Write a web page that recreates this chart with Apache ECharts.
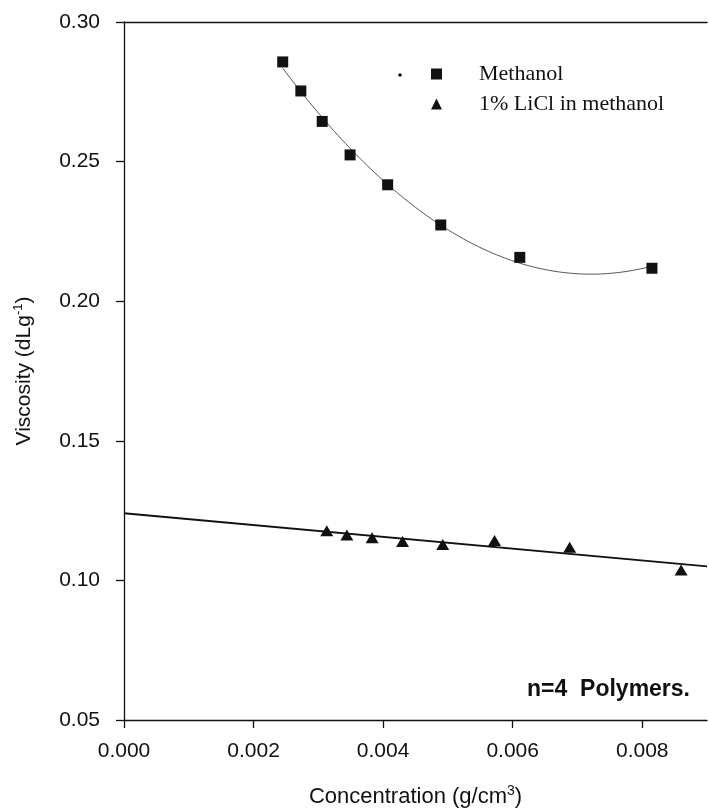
<!DOCTYPE html>
<html><head><meta charset="utf-8">
<script src="https://cdn.jsdelivr.net/npm/echarts@6/dist/echarts.min.js"></script>
<style>html,body{margin:0;padding:0;background:#fff}#c{width:709px;height:809px}</style>
</head><body><div id="c"></div>
<script>
// ---- data ----
const xTicks = [0, 0.002, 0.004, 0.006, 0.008];
const yTicks = [0.05, 0.10, 0.15, 0.20, 0.25, 0.30];
const xRange = [0, 0.009];
const yRange = [0.05, 0.30];
const seriesNames = ['Methanol', '1% LiCl in methanol'];
const methanolX = [0.00245, 0.00273, 0.00306, 0.00349, 0.00407, 0.00489, 0.00611, 0.00815];
const methanolY = [0.2857, 0.2753, 0.2644, 0.2524, 0.2417, 0.2273, 0.2157, 0.2118];
const liclX = [0.00313, 0.00344, 0.00383, 0.00430, 0.00492, 0.00572, 0.00688, 0.00860];
const liclY = [0.1178, 0.1163, 0.1153, 0.1139, 0.1129, 0.1143, 0.1119, 0.1037];
const noteText = 'n=4  Polymers.';

// ---- regression fits of the data ----
function linFit(xs, ys) {
  const n = xs.length, mx = xs.reduce((a,b)=>a+b,0)/n, my = ys.reduce((a,b)=>a+b,0)/n;
  let sxy=0, sxx=0;
  for (let i=0;i<n;i++){ sxy+=(xs[i]-mx)*(ys[i]-my); sxx+=(xs[i]-mx)**2; }
  const b = sxy/sxx; return {a: my-b*mx, b};
}
function quadFit(xs, ys) {
  const s = 1000; const X = xs.map(v=>v*s);
  const S = k => X.reduce((a,v)=>a+v**k,0);
  const T = k => X.reduce((a,v,i)=>a+v**k*ys[i],0);
  const M = [[S(0),S(1),S(2),T(0)],[S(1),S(2),S(3),T(1)],[S(2),S(3),S(4),T(2)]];
  for (let i=0;i<3;i++){ for (let j=i+1;j<3;j++){ const f=M[j][i]/M[i][i]; for(let k=i;k<4;k++) M[j][k]-=f*M[i][k]; } }
  const c=[0,0,0];
  for (let i=2;i>=0;i--){ let v=M[i][3]; for(let k=i+1;k<3;k++) v-=M[i][k]*c[k]; c[i]=v/M[i][i]; }
  return x => c[0]+c[1]*(x*s)+c[2]*(x*s)**2;
}
const lf = linFit(liclX, liclY);
const liclLine = [[xRange[0], lf.a + lf.b*xRange[0]], [xRange[1], lf.a + lf.b*xRange[1]]];
const qf = quadFit(methanolX, methanolY);
const mLo = Math.min(...methanolX), mHi = Math.max(...methanolX);
const methanolCurve = [];
for (let i=0;i<=100;i++){ const x = mLo + (mHi-mLo)*i/100; methanolCurve.push([x, qf(x)]); }

const sans = 'Liberation Sans, Arial, sans-serif';
const serif = 'Liberation Serif, Times New Roman, serif';
const chart = echarts.init(document.getElementById('c'), null, {renderer:'canvas'});
chart.setOption({
  animation: false,
  backgroundColor: '#fff',
  grid: {left: 124, top: 22, right: 2, bottom: 89, containLabel: false, outerBoundsMode: 'none'},
  legend: {
    data: [{name: seriesNames[0], icon: 'rect'}, {name: seriesNames[1], icon: 'triangle'}],
    orient: 'vertical', left: 431, top: 63, padding: 0, itemWidth: 11, itemHeight: 11, itemGap: 8,
    textStyle: {fontFamily: serif, fontSize: 22, color: '#111', padding: [0,0,0,32]},
    selectedMode: false
  },
  xAxis: [{
    type: 'value', min: xRange[0], max: xRange[1], position: 'bottom',
    name: 'Concentration (g/cm{sup|3})', nameLocation: 'middle', nameGap: 64,
    nameTextStyle: {fontFamily: sans, fontSize: 22, color: '#111',
      rich: {sup: {fontFamily: sans, fontSize: 14, verticalAlign: 'top', padding: [0,0,11,0], color:'#111'}}},
    axisLine: {show: true, lineStyle: {color: '#111', width: 1.3}},
    axisTick: {show: true, length: 8, customValues: xTicks, lineStyle: {color: '#111', width: 1.3}},
    axisLabel: {customValues: xTicks, margin: 21, fontFamily: sans, fontSize: 21, color: '#111',
      formatter: v => v.toFixed(3)},
    splitLine: {show: false}
  }, {
    type: 'value', min: xRange[0], max: xRange[1], position: 'top',
    axisLine: {show: true, lineStyle: {color: '#111', width: 1.3}},
    axisTick: {show: false}, axisLabel: {show: false}, splitLine: {show: false}
  }],
  yAxis: {
    type: 'value', min: yRange[0], max: yRange[1],
    name: 'Viscosity (dLg{sup|-1})', nameLocation: 'middle', nameGap: 88, nameRotate: 90,
    nameTextStyle: {fontFamily: sans, fontSize: 21, color: '#111',
      rich: {sup: {fontFamily: sans, fontSize: 13, verticalAlign: 'top', padding: [0,0,11,0], color:'#111'}}},
    axisLine: {show: true, lineStyle: {color: '#111', width: 1.3}},
    axisTick: {show: true, length: 8, customValues: yTicks, lineStyle: {color: '#111', width: 1.3}},
    axisLabel: {customValues: yTicks, margin: 24, fontFamily: sans, fontSize: 21, color: '#111',
      formatter: v => v.toFixed(2)},
    splitLine: {show: false}
  },
  graphic: [
    {type: 'circle', shape: {cx: 400, cy: 75, r: 1.8}, style: {fill: '#111'}},
    {type: 'text', right: 19, top: 678, style: {text: noteText, font: 'bold 23px ' + sans, fill: '#111'}}
  ],
  series: [
    {type: 'line', name: 'methanolFit', data: methanolCurve, showSymbol: false, symbol: 'none',
      lineStyle: {color: '#555', width: 1}, silent: true, z: 2},
    {type: 'line', name: 'liclFit', data: liclLine, showSymbol: false, symbol: 'none',
      lineStyle: {color: '#111', width: 2}, silent: true, z: 2},
    {type: 'scatter', name: seriesNames[0], data: methanolX.map((x,i)=>[x, methanolY[i]]),
      symbol: 'rect', symbolSize: 11, itemStyle: {color: '#111', opacity: 1}, z: 3},
    {type: 'scatter', name: seriesNames[1], data: liclX.map((x,i)=>[x, liclY[i]]),
      symbol: 'triangle', symbolSize: [13, 11], itemStyle: {color: '#111', opacity: 1}, z: 3}
  ]
});
</script></body></html>
